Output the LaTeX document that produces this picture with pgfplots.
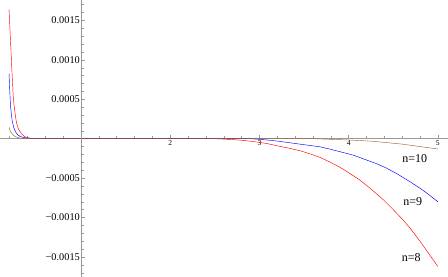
\documentclass[border=0pt]{standalone}
\usepackage{fontspec}
\setmainfont{Liberation Serif}
\usepackage{pgfplots}
\pgfplotsset{compat=1.18}
\definecolor{mmabrown}{rgb}{0.6,0.4,0.2}
\definecolor{axgray}{gray}{0.6}
\begin{document}
\begin{tikzpicture}[font=\rmfamily]
% data axis with horizontal axis line
\begin{axis}[name=main,
  scale only axis, width=448bp, height=277bp,
  xmin=0.092, xmax=5.114, ymin=-0.001754, ymax=0.001759,
  axis x line=middle, axis y line=none,
  axis line style={axgray, line width=0.5bp, -},
  xtick={2,3,4,5},
  minor xtick={0.2,0.4,0.6,0.8,1.2,1.4,1.6,1.8,2.2,2.4,2.6,2.8,3.2,3.4,3.6,3.8,4.2,4.4,4.6,4.8},
  tick align=inside,
  major tick length=4bp, minor tick length=2.5bp,
  tick style={axgray, line width=0.4bp},
  xticklabel style={font=\rmfamily\fontsize{7.5bp}{8bp}\selectfont, inner sep=1.2bp, anchor=north},
  xticklabels={\mbox{2},\mbox{3},\mbox{4},\mbox{5}},
  clip=false,
]
\addplot[red, line width=0.45bp] coordinates {
 (0.193,0.00164) (0.200,0.00148) (0.205,0.00135) (0.210,0.00123) (0.215,0.00112)
 (0.222,0.00095) (0.228,0.00080) (0.235,0.00066) (0.241,0.00053) (0.250,0.00042)
 (0.260,0.00033) (0.270,0.00025) (0.279,0.000195) (0.290,0.00015) (0.300,0.00012)
 (0.318,0.00009) (0.335,0.00006) (0.36,0.000035) (0.38,0.00002) (0.41,0.00001)
 (0.45,0.000004) (0.5,0) (1.0,0) (1.5,0) (2.0,0) (2.5,0)
 (2.6,-0.000005) (2.7,-0.000011) (2.8,-0.00002) (2.9,-0.000032) (3.01,-0.000048)
 (3.1,-0.000065) (3.2,-0.00009) (3.33,-0.00012) (3.46,-0.000154) (3.57,-0.000193)
 (3.68,-0.000237) (3.79,-0.000296) (3.9,-0.00036) (4.0,-0.00043) (4.12,-0.00052)
 (4.24,-0.000628) (4.39,-0.000775) (4.5,-0.0009) (4.61,-0.00103) (4.7,-0.00115)
 (4.80,-0.0013) (4.9,-0.00146) (5.0,-0.00162)
};
\addplot[blue, line width=0.45bp] coordinates {
 (0.193,0.000826) (0.197,0.00073) (0.200,0.00065) (0.204,0.00055) (0.208,0.00045)
 (0.214,0.00037) (0.220,0.00030) (0.230,0.00022) (0.244,0.00015) (0.256,0.00011)
 (0.270,0.00008) (0.290,0.00005) (0.316,0.00003) (0.35,0.000017) (0.38,0.00001)
 (0.43,0.000005) (0.5,0) (1.0,0) (1.5,0) (2.0,0) (2.5,0) (2.9,0)
 (3.0,-0.000008) (3.1,-0.000018) (3.2,-0.00003) (3.33,-0.00005) (3.46,-0.00007)
 (3.57,-0.000086) (3.68,-0.000103) (3.79,-0.000132) (3.92,-0.00017) (4.05,-0.000208)
 (4.2,-0.00027) (4.32,-0.00032) (4.43,-0.000376) (4.55,-0.00045) (4.68,-0.00054)
 (4.80,-0.000628) (4.9,-0.00071) (5.0,-0.0008)
};
\addplot[mmabrown, line width=0.45bp] coordinates {
 (0.193,0.000145) (0.200,0.00012) (0.208,0.000095) (0.218,0.000075) (0.230,0.00006)
 (0.245,0.000042) (0.260,0.00003) (0.280,0.00002) (0.300,0.000012) (0.35,0.000004)
 (0.45,0) (1.0,0) (1.5,0) (2.0,0) (2.5,0) (3.0,0) (3.6,0)
 (3.8,-0.000008) (4.0,-0.000016) (4.24,-0.00003) (4.43,-0.00005) (4.61,-0.00007)
 (4.8,-0.0001) (5.0,-0.00013)
};
\node[font=\rmfamily\fontsize{12bp}{14bp}\selectfont, inner sep=0pt] at (axis cs:4.741,-0.000255) {n=10};
\node[font=\rmfamily\fontsize{12bp}{14bp}\selectfont, inner sep=0pt] at (axis cs:4.719,-0.000794) {n=9};
\node[font=\rmfamily\fontsize{12bp}{14bp}\selectfont, inner sep=0pt] at (axis cs:4.703,-0.001506) {n=8};
\end{axis}
% second axis: vertical axis line at x = 1 (shifted frame, no data)
\begin{axis}[
  scale only axis, width=448bp, height=277bp,
  xmin=-0.908, xmax=4.114, ymin=-0.001754, ymax=0.001759,
  axis y line=middle, axis x line=none,
  axis line style={axgray, line width=0.5bp, -},
  ytick={-0.0015,-0.001,-0.0005,0.0005,0.001,0.0015},
  yticklabels={\mbox{−0.0015},\mbox{−0.0010},\mbox{−0.0005},\mbox{0.0005},\mbox{0.0010},\mbox{0.0015}},
  minor ytick={-0.0017,-0.0016,-0.0014,-0.0013,-0.0012,-0.0011,-0.0009,-0.0008,-0.0007,-0.0006,-0.0004,-0.0003,-0.0002,-0.0001,0.0001,0.0002,0.0003,0.0004,0.0006,0.0007,0.0008,0.0009,0.0011,0.0012,0.0013,0.0014,0.0016,0.0017},
  tick align=inside,
  major tick length=4bp, minor tick length=2.5bp,
  tick style={axgray, line width=0.4bp},
  yticklabel style={font=\rmfamily\fontsize{10.3bp}{12bp}\selectfont, inner sep=1bp, anchor=east},
  scaled y ticks=false,
]
\end{axis}
\pgfresetboundingbox
\path[use as bounding box] (main.south west) rectangle (main.north east);
\end{tikzpicture}
\end{document}
